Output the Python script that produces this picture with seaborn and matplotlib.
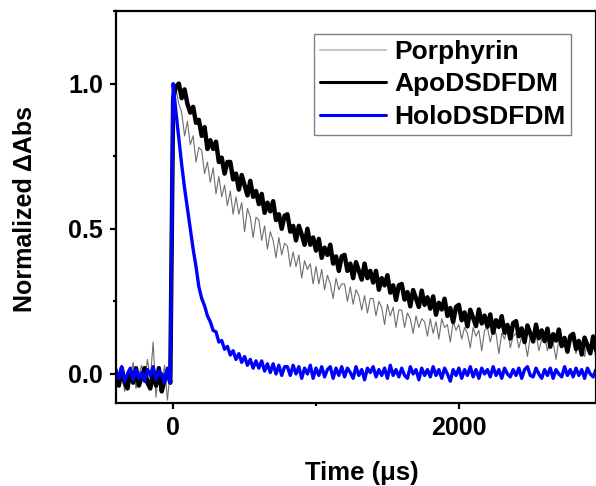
import numpy as np
import pandas as pd
import matplotlib
matplotlib.use("Agg")
import matplotlib.pyplot as plt
import seaborn as sns
from matplotlib.ticker import MultipleLocator

# time axis (us), sampled every 20 us
time_us = np.arange(-400, 3000, 20)

# Porphyrin trace (grey, noisy)
porphyrin = [
    0.02, -0.04, 0.03, -0.06, 0.01, -0.02, 0.04, -0.05, 0.00, 0.03,
    -0.03, 0.05, -0.02, 0.11, -0.08, 0.02, -0.04, 0.03, -0.09, 0.01,
    0.92, 0.98, 0.93, 0.90, 0.82, 0.87, 0.79, 0.82, 0.73, 0.78,
    0.77, 0.69, 0.73, 0.66, 0.71, 0.62, 0.68, 0.61, 0.65, 0.58,
    0.63, 0.55, 0.61, 0.55, 0.59, 0.49, 0.57, 0.54, 0.47, 0.54,
    0.53, 0.46, 0.51, 0.43, 0.49, 0.46, 0.40, 0.47, 0.41, 0.45,
    0.44, 0.37, 0.42, 0.37, 0.41, 0.33, 0.39, 0.36, 0.38, 0.31,
    0.37, 0.31, 0.36, 0.29, 0.34, 0.31, 0.26, 0.33, 0.29, 0.31,
    0.31, 0.25, 0.30, 0.24, 0.29, 0.27, 0.22, 0.27, 0.21, 0.26,
    0.26, 0.20, 0.25, 0.23, 0.17, 0.24, 0.20, 0.23, 0.16, 0.22,
    0.22, 0.16, 0.21, 0.19, 0.14, 0.20, 0.16, 0.19, 0.18, 0.13,
    0.19, 0.14, 0.18, 0.12, 0.19, 0.16, 0.17, 0.11, 0.18, 0.15,
    0.17, 0.12, 0.16, 0.14, 0.09, 0.16, 0.13, 0.15, 0.08, 0.15,
    0.16, 0.11, 0.15, 0.14, 0.07, 0.14, 0.12, 0.16, 0.09, 0.13,
    0.14, 0.09, 0.13, 0.12, 0.06, 0.13, 0.11, 0.14, 0.08, 0.12,
    0.13, 0.08, 0.12, 0.11, 0.05, 0.12, 0.10, 0.13, 0.07, 0.11,
    0.12, 0.07, 0.11, 0.10, 0.06, 0.11, 0.09, 0.12, 0.05, 0.10,
]

# ApoDSDFDM trace (black)
apo = [
    -0.01, -0.04, 0.02, -0.03, -0.05, 0.01, -0.03, 0.02, -0.04, -0.01,
    0.02, -0.03, -0.05, 0.01, -0.04, 0.02, -0.06, -0.02, 0.01, -0.03,
    0.95, 0.99, 1.00, 0.95, 0.98, 0.93, 0.90, 0.92, 0.865, 0.875,
    0.82, 0.85, 0.775, 0.805, 0.775, 0.80, 0.73, 0.745, 0.69, 0.73,
    0.73, 0.67, 0.69, 0.635, 0.685, 0.65, 0.615, 0.665, 0.61, 0.63,
    0.585, 0.62, 0.555, 0.59, 0.56, 0.595, 0.53, 0.55, 0.50, 0.545,
    0.55, 0.49, 0.51, 0.46, 0.51, 0.48, 0.445, 0.50, 0.445, 0.47,
    0.425, 0.465, 0.40, 0.435, 0.41, 0.445, 0.38, 0.405, 0.355, 0.405,
    0.41, 0.355, 0.38, 0.33, 0.385, 0.355, 0.325, 0.38, 0.33, 0.355,
    0.315, 0.355, 0.29, 0.33, 0.305, 0.34, 0.28, 0.305, 0.255, 0.305,
    0.31, 0.256, 0.282, 0.233, 0.289, 0.26, 0.231, 0.287, 0.238, 0.264,
    0.225, 0.267, 0.204, 0.245, 0.222, 0.259, 0.20, 0.227, 0.179, 0.231,
    0.238, 0.185, 0.212, 0.164, 0.221, 0.193, 0.165, 0.222, 0.174, 0.201,
    0.163, 0.205, 0.142, 0.185, 0.162, 0.199, 0.142, 0.169, 0.122, 0.175,
    0.182, 0.13, 0.157, 0.11, 0.167, 0.14, 0.112, 0.17, 0.123, 0.15,
    0.113, 0.156, 0.094, 0.137, 0.115, 0.153, 0.096, 0.124, 0.077, 0.13,
    0.138, 0.086, 0.114, 0.067, 0.125, 0.098, 0.071, 0.129, 0.082, 0.11,
]

# HoloDSDFDM trace (blue)
holo = [
    0.015, -0.015, 0.025, -0.025, 0.00, 0.02, -0.02, 0.015, -0.015, 0.005,
    -0.025, 0.015, -0.005, 0.025, -0.02, 0.01, 0.00, -0.03, 0.02, -0.03,
    1.00, 0.90, 0.81, 0.72, 0.64, 0.57, 0.50, 0.43, 0.37, 0.30,
    0.26, 0.235, 0.20, 0.18, 0.15, 0.145, 0.11, 0.115, 0.085, 0.095,
    0.065, 0.08, 0.05, 0.07, 0.04, 0.06, 0.03, 0.05, 0.02, 0.045,
    0.02, 0.045, 0.01, 0.035, 0.005, 0.035, 0.00, 0.03, -0.005, 0.025,
    0.025, -0.005, 0.03, 0.00, 0.025, -0.015, 0.02, 0.00, 0.03, -0.015,
    0.02, -0.005, 0.025, -0.01, 0.015, 0.025, -0.015, 0.02, -0.005, 0.025,
    -0.01, 0.02, 0.005, -0.015, 0.025, -0.005, 0.015, -0.02, 0.02, 0.005,
    0.025, -0.01, 0.015, -0.005, 0.02, -0.015, 0.03, -0.005, 0.015, -0.01,
    0.02, -0.005, -0.015, 0.025, 0.00, 0.015, -0.02, 0.02, -0.005, 0.015,
    -0.01, 0.025, -0.005, 0.015, -0.015, 0.02, 0.00, -0.025, 0.015, -0.005,
    0.02, -0.015, 0.015, -0.005, 0.025, -0.01, 0.015, -0.015, 0.02, 0.00,
    0.015, -0.01, 0.025, -0.005, 0.015, -0.015, 0.02, 0.00, -0.01, 0.015,
    -0.005, 0.02, -0.015, 0.015, 0.025, -0.005, -0.01, 0.02, 0.00, -0.015,
    0.015, -0.005, 0.02, -0.015, 0.015, 0.00, -0.01, 0.025, -0.005, 0.015,
    -0.01, 0.02, -0.005, 0.015, -0.015, 0.02, 0.00, -0.01, 0.015, -0.005,
]

series_names = ["Porphyrin", "ApoDSDFDM", "HoloDSDFDM"]
series_colors = ["#6e6e6e", "#000000", "#0000ff"]
series_widths = [0.8, 3.2, 2.4]

sns.set_style("ticks")
plt.rcParams["font.family"] = ["Liberation Sans", "DejaVu Sans"]
plt.rcParams["font.weight"] = "bold"
plt.rcParams["text.color"] = "black"
plt.rcParams["axes.labelcolor"] = "black"
plt.rcParams["axes.edgecolor"] = "black"
plt.rcParams["xtick.color"] = "black"
plt.rcParams["ytick.color"] = "black"

fig = plt.figure(figsize=(5.96, 4.86), dpi=100)
ax = fig.add_axes([116 / 596, 83 / 486, 480 / 596, 392 / 486])

for name, vals, col, lw in zip(series_names, [porphyrin, apo, holo], series_colors, series_widths):
    df = pd.DataFrame({"t": time_us, "y": vals})
    sns.lineplot(data=df, x="t", y="y", color=col, linewidth=lw, label=name, ax=ax)

ax.set_xlim(-400, 2960)
ax.set_ylim(-0.1, 1.25)
ax.xaxis.set_major_locator(MultipleLocator(2000))
ax.xaxis.set_minor_locator(MultipleLocator(1000))
ax.yaxis.set_major_locator(MultipleLocator(0.5))
ax.yaxis.set_minor_locator(MultipleLocator(0.25))
ax.yaxis.set_major_formatter(plt.FormatStrFormatter("%.1f"))

for s in ax.spines.values():
    s.set_linewidth(1.6)
    s.set_color("black")
ax.tick_params(which="major", length=4.5, width=1.6, labelsize=18, pad=5, colors="black")
ax.tick_params(which="minor", length=2.5, width=1.6, colors="black")
for lab in ax.get_xticklabels() + ax.get_yticklabels():
    lab.set_fontweight("bold")

ax.set_xlabel("Time (μs)", fontsize=18.5, fontweight="bold", color="black")
ax.set_ylabel("Normalized ΔAbs", fontsize=18, fontweight="bold", color="black")
ax.xaxis.set_label_coords(0.5125, -0.147)
ax.yaxis.set_label_coords(-0.165, 0.496)

leg = ax.legend(loc="upper right", bbox_to_anchor=(0.948, 0.941), borderaxespad=0,
                fancybox=False, frameon=True, edgecolor="#808080", framealpha=1,
                prop={"size": 19, "weight": "bold"}, handlelength=2.5,
                handletextpad=0.3, labelspacing=0.32, borderpad=0.22)
leg.get_frame().set_linewidth(1.0)
for t in leg.get_texts():
    t.set_color("black")
leg.get_lines()[0].set_color("#c8c8c8")
leg.get_lines()[0].set_linewidth(1.5)
leg.get_lines()[1].set_linewidth(2.2)
leg.get_lines()[2].set_linewidth(2.2)

fig.savefig("out.png", dpi=100)
